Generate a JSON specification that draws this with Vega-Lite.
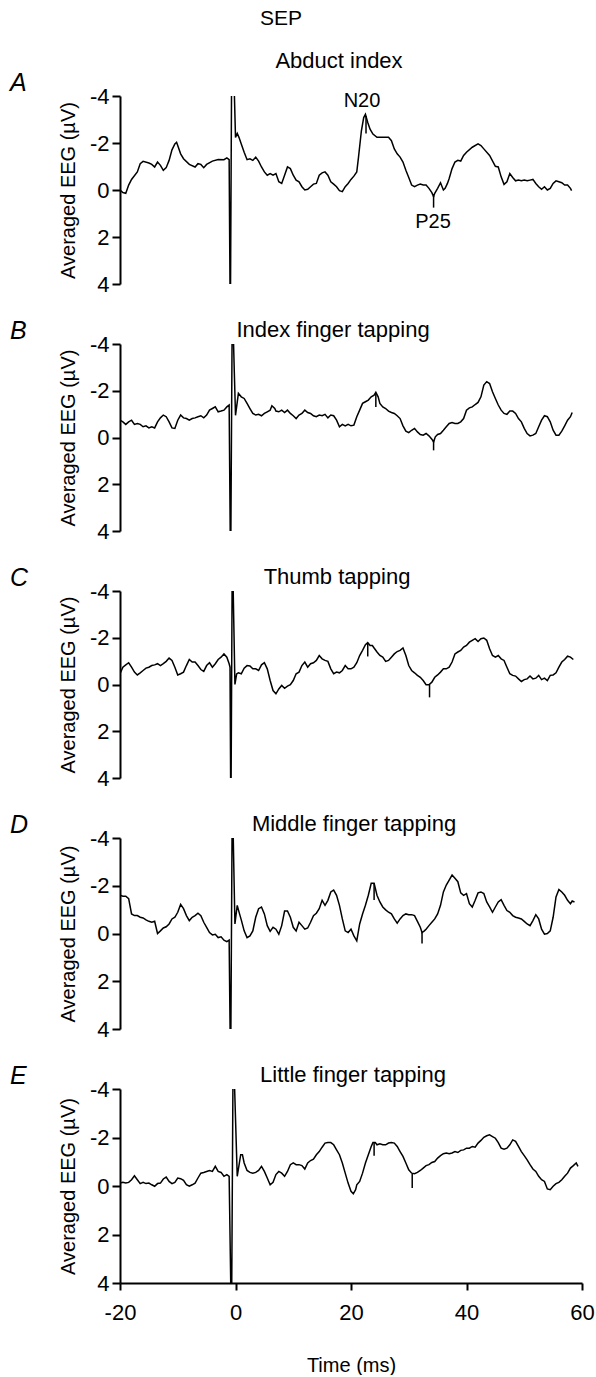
{
  "$schema": "https://vega.github.io/schema/vega-lite/v6.json",
  "autosize": {"type": "pad"},
  "padding": {"left": 10, "top": 8, "right": 0, "bottom": 0},
  "background": "white",
  "title": {"text": "SEP", "fontSize": 21, "fontWeight": "normal", "anchor": "middle", "frame": "group", "dx": -70, "offset": 4, "baseline": "alphabetic"},
  "bounds": "flush",
  "spacing": 60,
  "config": {
    "font": "Liberation Sans",
    "view": {"stroke": null},
    "axis": {"domainColor": "black", "domainWidth": 2, "tickColor": "black", "tickWidth": 2, "tickSize": 8, "labelColor": "black", "labelFont": "Liberation Sans", "labelFontSize": 22, "titleFont": "Liberation Sans", "titleFontSize": 20, "titleFontWeight": "normal", "titleColor": "black", "grid": false, "labelPadding": 3, "labelExpr": "replace(datum.label, '\u2212', '-')"},
    "axisY": {"titlePadding": 11},
    "title": {"font": "Liberation Sans", "fontWeight": "normal", "color": "black", "fontSize": 22}
  },
  "datasets": {
    "A": [
      {"t":-20,"v":0},{"t":-19.5,"v":0.11},{"t":-19,"v":0.14},{"t":-18.5,"v":-0.21},{"t":-18,"v":-0.45},{"t":-17,"v":-0.77},{"t":-16.5,"v":-1.12},{"t":-16,"v":-1.22},{"t":-15,"v":-1.15},{"t":-14.5,"v":-1.09},{"t":-14,"v":-0.98},{"t":-13.5,"v":-1.19},{"t":-13,"v":-1.05},{"t":-12.5,"v":-0.84},{"t":-12,"v":-0.95},{"t":-11.5,"v":-1.26},{"t":-11,"v":-1.71},{"t":-10.5,"v":-1.96},{"t":-10.2,"v":-2.03},{"t":-9.5,"v":-1.54},{"t":-9,"v":-1.33},{"t":-8,"v":-1.09},{"t":-7,"v":-0.98},{"t":-6.5,"v":-1.12},{"t":-6,"v":-1.09},{"t":-5.5,"v":-0.95},{"t":-5,"v":-1.09},{"t":-4,"v":-1.23},{"t":-3,"v":-1.3},{"t":-2,"v":-1.29},{"t":-1.5,"v":-1.37},{"t":-1.1,"v":-1.29},
      {"t":-0.9,"v":6},{"t":-0.65,"v":-6},{"t":-0.4,"v":-6},{"t":0,"v":-2.24},
      {"t":0.3,"v":-2.41},{"t":0.6,"v":-2.24},{"t":1,"v":-1.96},{"t":1.5,"v":-1.61},{"t":2,"v":-1.29},{"t":2.5,"v":-1.33},{"t":3,"v":-1.26},{"t":3.5,"v":-1.4},{"t":4,"v":-1.23},{"t":4.5,"v":-0.98},{"t":5,"v":-0.77},{"t":5.5,"v":-0.63},{"t":6,"v":-0.7},{"t":6.5,"v":-0.63},{"t":7,"v":-0.7},{"t":7.5,"v":-0.35},{"t":8,"v":-0.28},{"t":8.5,"v":-0.63},{"t":9,"v":-0.98},{"t":9.5,"v":-0.91},{"t":10,"v":-0.63},{"t":10.5,"v":-0.42},{"t":11,"v":-0.35},{"t":11.5,"v":-0.14},{"t":12,"v":0},{"t":12.5,"v":-0.03},{"t":13,"v":-0.14},{"t":13.5,"v":-0.25},{"t":14,"v":-0.28},{"t":14.5,"v":-0.63},{"t":15,"v":-0.73},{"t":15.5,"v":-0.77},{"t":16,"v":-0.63},{"t":16.5,"v":-0.35},{"t":17,"v":-0.25},{"t":17.5,"v":-0.14},{"t":18,"v":0.03},{"t":18.5,"v":0.07},{"t":19,"v":-0.14},{"t":19.5,"v":-0.28},{"t":20,"v":-0.45},{"t":20.5,"v":-0.59},{"t":21,"v":-0.77},{"t":21.3,"v":-1.4},{"t":21.8,"v":-2.52},{"t":22.2,"v":-3.08},{"t":22.5,"v":-3.22},{"t":22.9,"v":-2.87},{"t":23.3,"v":-2.59},{"t":23.8,"v":-2.38},{"t":24.5,"v":-2.24},{"t":25.5,"v":-2.24},{"t":26.5,"v":-2.24},{"t":27,"v":-2.1},{"t":27.5,"v":-1.75},{"t":28,"v":-1.54},{"t":28.5,"v":-1.4},{"t":29,"v":-1.19},{"t":29.5,"v":-0.84},{"t":30,"v":-0.53},{"t":30.5,"v":-0.21},{"t":31,"v":-0.14},{"t":31.5,"v":-0.21},{"t":32,"v":-0.25},{"t":32.5,"v":-0.21},{"t":33,"v":-0.21},{"t":33.5,"v":-0.07},{"t":34,"v":0.11},{"t":34.3,"v":0.28},{"t":34.5,"v":0.14},{"t":35,"v":-0.07},{"t":35.5,"v":-0.31},{"t":36,"v":0},{"t":36.3,"v":-0.07},{"t":36.7,"v":-0.28},{"t":37,"v":-0.49},{"t":37.5,"v":-0.91},{"t":38,"v":-1.19},{"t":38.5,"v":-1.26},{"t":39,"v":-1.23},{"t":39.5,"v":-1.47},{"t":40,"v":-1.61},{"t":41,"v":-1.82},{"t":42,"v":-1.96},{"t":42.5,"v":-1.89},{"t":43,"v":-1.75},{"t":44,"v":-1.47},{"t":45,"v":-1.01},{"t":45.5,"v":-0.98},{"t":46,"v":-0.56},{"t":46.5,"v":-0.24},{"t":47,"v":-0.35},{"t":47.5,"v":-0.7},{"t":48,"v":-0.53},{"t":48.5,"v":-0.39},{"t":49,"v":-0.42},{"t":49.5,"v":-0.39},{"t":50,"v":-0.42},{"t":50.5,"v":-0.39},{"t":51,"v":-0.42},{"t":51.5,"v":-0.45},{"t":52,"v":-0.28},{"t":52.5,"v":-0.14},{"t":53,"v":-0.03},{"t":53.5,"v":-0.14},{"t":54,"v":0},{"t":54.5,"v":-0.07},{"t":55,"v":-0.28},{"t":55.5,"v":-0.39},{"t":56,"v":-0.35},{"t":56.5,"v":-0.31},{"t":57,"v":-0.21},{"t":57.5,"v":-0.21},{"t":58,"v":-0.07},{"t":58.2,"v":0.03}
    ],
    "B": [
      {"t":-20,"v":-0.74},{"t":-19.5,"v":-0.67},{"t":-19,"v":-0.56},{"t":-18.5,"v":-0.67},{"t":-18,"v":-0.74},{"t":-17.5,"v":-0.56},{"t":-17,"v":-0.6},{"t":-16.5,"v":-0.56},{"t":-16,"v":-0.46},{"t":-15.5,"v":-0.5},{"t":-15,"v":-0.41},{"t":-14.5,"v":-0.46},{"t":-14,"v":-0.41},{"t":-13.5,"v":-0.67},{"t":-13,"v":-0.84},{"t":-12.5,"v":-0.96},{"t":-12,"v":-0.89},{"t":-11.5,"v":-0.67},{"t":-11,"v":-0.41},{"t":-10.5,"v":-0.39},{"t":-10,"v":-0.74},{"t":-9.5,"v":-0.96},{"t":-9,"v":-0.84},{"t":-8.5,"v":-0.81},{"t":-8,"v":-0.74},{"t":-7.5,"v":-0.81},{"t":-7,"v":-0.84},{"t":-6.5,"v":-0.89},{"t":-6,"v":-0.93},{"t":-5.5,"v":-0.84},{"t":-5,"v":-0.96},{"t":-4.5,"v":-1.17},{"t":-4,"v":-1.24},{"t":-3.5,"v":-1.31},{"t":-3,"v":-1.1},{"t":-2.5,"v":-1.13},{"t":-2,"v":-1.17},{"t":-1.5,"v":-1.31},{"t":-1.1,"v":-1.39},
      {"t":-0.85,"v":6},{"t":-0.55,"v":-6},{"t":-0.2,"v":-2.75},{"t":0,"v":-0.95},{"t":0.5,"v":-1.89},
      {"t":1,"v":-1.74},{"t":1.5,"v":-1.67},{"t":2,"v":-1.46},{"t":2.5,"v":-1.24},{"t":3,"v":-1.03},{"t":3.5,"v":-0.96},{"t":4,"v":-0.99},{"t":4.5,"v":-0.93},{"t":5,"v":-1.03},{"t":5.5,"v":-1.1},{"t":6,"v":-1.17},{"t":6.3,"v":-1.36},{"t":6.8,"v":-1.24},{"t":7,"v":-1.13},{"t":7.5,"v":-1.1},{"t":8,"v":-1.17},{"t":8.5,"v":-1.07},{"t":9,"v":-1.17},{"t":9.5,"v":-1.03},{"t":10,"v":-0.93},{"t":10.5,"v":-0.81},{"t":11,"v":-0.96},{"t":11.5,"v":-1.03},{"t":12,"v":-1.17},{"t":12.5,"v":-1.07},{"t":13,"v":-1.03},{"t":13.5,"v":-0.93},{"t":14,"v":-0.89},{"t":14.5,"v":-0.96},{"t":15,"v":-0.93},{"t":15.5,"v":-0.99},{"t":16,"v":-0.84},{"t":16.5,"v":-0.96},{"t":17,"v":-0.93},{"t":17.5,"v":-0.74},{"t":18,"v":-0.46},{"t":18.5,"v":-0.56},{"t":19,"v":-0.5},{"t":19.5,"v":-0.56},{"t":20,"v":-0.5},{"t":20.5,"v":-0.53},{"t":21,"v":-0.89},{"t":21.5,"v":-1.17},{"t":22,"v":-1.46},{"t":22.5,"v":-1.53},{"t":23,"v":-1.6},{"t":23.5,"v":-1.74},{"t":24,"v":-1.81},{"t":24.3,"v":-1.93},{"t":24.7,"v":-1.74},{"t":25,"v":-1.46},{"t":25.5,"v":-1.31},{"t":26,"v":-1.24},{"t":26.5,"v":-1.13},{"t":27,"v":-1.07},{"t":27.5,"v":-1.03},{"t":28,"v":-0.93},{"t":28.5,"v":-0.81},{"t":29,"v":-0.5},{"t":29.5,"v":-0.27},{"t":30,"v":-0.21},{"t":30.5,"v":-0.31},{"t":31,"v":-0.39},{"t":31.5,"v":-0.24},{"t":32,"v":-0.13},{"t":32.5,"v":-0.1},{"t":33,"v":-0.17},{"t":33.5,"v":-0.07},{"t":34,"v":0.07},{"t":34.3,"v":0.19},{"t":34.6,"v":-0.03},{"t":35,"v":-0.13},{"t":35.5,"v":-0.17},{"t":36,"v":-0.31},{"t":36.5,"v":-0.46},{"t":37,"v":-0.6},{"t":37.5,"v":-0.64},{"t":38,"v":-0.6},{"t":38.5,"v":-0.6},{"t":39,"v":-0.67},{"t":39.5,"v":-0.81},{"t":40,"v":-1.17},{"t":40.5,"v":-1.27},{"t":41,"v":-1.31},{"t":41.5,"v":-1.41},{"t":42,"v":-1.5},{"t":42.5,"v":-1.74},{"t":43,"v":-2.24},{"t":43.5,"v":-2.39},{"t":44,"v":-2.31},{"t":44.5,"v":-1.96},{"t":45,"v":-1.67},{"t":45.5,"v":-1.39},{"t":46,"v":-1.17},{"t":46.5,"v":-1.03},{"t":47,"v":-0.99},{"t":47.5,"v":-1.13},{"t":48,"v":-1.13},{"t":48.5,"v":-1.03},{"t":49,"v":-0.81},{"t":49.5,"v":-0.67},{"t":50,"v":-0.39},{"t":50.5,"v":-0.17},{"t":51,"v":-0.07},{"t":51.5,"v":-0.1},{"t":52,"v":-0.17},{"t":52.5,"v":-0.46},{"t":53,"v":-0.74},{"t":53.5,"v":-0.93},{"t":54,"v":-0.89},{"t":54.5,"v":-0.67},{"t":55,"v":-0.31},{"t":55.5,"v":-0.1},{"t":56,"v":-0.1},{"t":56.5,"v":-0.27},{"t":57,"v":-0.5},{"t":57.5,"v":-0.74},{"t":58,"v":-0.89},{"t":58.3,"v":-1.07}
    ],
    "C": [
      {"t":-20,"v":-0.46},{"t":-19.5,"v":-0.74},{"t":-19,"v":-0.84},{"t":-18.5,"v":-0.93},{"t":-18,"v":-0.74},{"t":-17.5,"v":-0.53},{"t":-17,"v":-0.41},{"t":-16.5,"v":-0.5},{"t":-16,"v":-0.6},{"t":-15.5,"v":-0.7},{"t":-15,"v":-0.74},{"t":-14.5,"v":-0.81},{"t":-14,"v":-0.84},{"t":-13.5,"v":-0.89},{"t":-13,"v":-0.81},{"t":-12.5,"v":-0.89},{"t":-12,"v":-0.99},{"t":-11.5,"v":-1.13},{"t":-11,"v":-1.03},{"t":-10.5,"v":-0.74},{"t":-10,"v":-0.41},{"t":-9.5,"v":-0.46},{"t":-9,"v":-0.53},{"t":-8.5,"v":-0.81},{"t":-8,"v":-1.07},{"t":-7.5,"v":-0.96},{"t":-7,"v":-0.96},{"t":-6.5,"v":-0.81},{"t":-6,"v":-0.64},{"t":-5.5,"v":-0.56},{"t":-5,"v":-0.81},{"t":-4.5,"v":-0.93},{"t":-4,"v":-0.74},{"t":-3.5,"v":-0.89},{"t":-3,"v":-1.07},{"t":-2.5,"v":-1.17},{"t":-2,"v":-1.31},{"t":-1.5,"v":-1.17},{"t":-1.1,"v":-0.89},{"t":-0.95,"v":-0.74},
      {"t":-0.8,"v":6},{"t":-0.55,"v":-6},{"t":-0.3,"v":-2.7},{"t":-0.1,"v":0},{"t":0.2,"v":-0.45},
      {"t":0.5,"v":-0.5},{"t":1,"v":-0.46},{"t":1.5,"v":-0.7},{"t":2,"v":-0.81},{"t":2.5,"v":-0.79},{"t":3,"v":-0.67},{"t":3.5,"v":-0.67},{"t":4,"v":-0.6},{"t":4.5,"v":-0.84},{"t":5,"v":-0.93},{"t":5.5,"v":-0.67},{"t":6,"v":-0.17},{"t":6.5,"v":0.26},{"t":7,"v":0.4},{"t":7.5,"v":0.19},{"t":8,"v":0.04},{"t":8.5,"v":0.16},{"t":9,"v":0.07},{"t":9.5,"v":0.01},{"t":10,"v":-0.17},{"t":10.5,"v":-0.46},{"t":11,"v":-0.53},{"t":11.5,"v":-0.81},{"t":12,"v":-0.96},{"t":12.5,"v":-0.74},{"t":13,"v":-0.89},{"t":13.5,"v":-0.93},{"t":14,"v":-1.03},{"t":14.5,"v":-1.24},{"t":15,"v":-1.1},{"t":15.5,"v":-1.03},{"t":16,"v":-0.99},{"t":16.5,"v":-0.67},{"t":17,"v":-0.46},{"t":17.5,"v":-0.53},{"t":18,"v":-0.5},{"t":18.5,"v":-0.6},{"t":19,"v":-0.81},{"t":19.5,"v":-0.67},{"t":20,"v":-0.67},{"t":20.5,"v":-0.74},{"t":21,"v":-0.93},{"t":21.5,"v":-1.24},{"t":22,"v":-1.46},{"t":22.5,"v":-1.7},{"t":22.9,"v":-1.79},{"t":23.3,"v":-1.67},{"t":23.7,"v":-1.67},{"t":24,"v":-1.56},{"t":24.5,"v":-1.39},{"t":25,"v":-1.24},{"t":25.5,"v":-1.17},{"t":26,"v":-0.99},{"t":26.5,"v":-1.03},{"t":27,"v":-1.17},{"t":27.5,"v":-1.31},{"t":28,"v":-1.41},{"t":28.5,"v":-1.46},{"t":29,"v":-1.56},{"t":29.5,"v":-1.24},{"t":30,"v":-0.81},{"t":30.5,"v":-0.6},{"t":31,"v":-0.5},{"t":31.5,"v":-0.39},{"t":32,"v":-0.31},{"t":32.5,"v":-0.17},{"t":33,"v":0.01},{"t":33.5,"v":0.01},{"t":34,"v":-0.1},{"t":34.5,"v":-0.31},{"t":35,"v":-0.41},{"t":35.5,"v":-0.53},{"t":36,"v":-0.67},{"t":36.5,"v":-0.67},{"t":37,"v":-0.74},{"t":37.5,"v":-0.96},{"t":38,"v":-1.31},{"t":38.5,"v":-1.39},{"t":39,"v":-1.46},{"t":39.5,"v":-1.6},{"t":40,"v":-1.67},{"t":40.5,"v":-1.81},{"t":41,"v":-1.89},{"t":41.5,"v":-1.96},{"t":42,"v":-1.84},{"t":42.5,"v":-1.96},{"t":43,"v":-1.99},{"t":43.5,"v":-1.89},{"t":44,"v":-1.53},{"t":44.5,"v":-1.24},{"t":45,"v":-1.17},{"t":45.5,"v":-1.24},{"t":46,"v":-1.1},{"t":46.5,"v":-1.03},{"t":47,"v":-0.74},{"t":47.5,"v":-0.46},{"t":48,"v":-0.39},{"t":48.5,"v":-0.36},{"t":49,"v":-0.24},{"t":49.5,"v":-0.13},{"t":50,"v":-0.21},{"t":50.5,"v":-0.24},{"t":51,"v":-0.36},{"t":51.5,"v":-0.24},{"t":52,"v":-0.27},{"t":52.5,"v":-0.39},{"t":53,"v":-0.21},{"t":53.5,"v":-0.27},{"t":54,"v":-0.17},{"t":54.5,"v":-0.39},{"t":55,"v":-0.41},{"t":55.5,"v":-0.5},{"t":56,"v":-0.74},{"t":56.5,"v":-0.96},{"t":57,"v":-1.07},{"t":57.5,"v":-1.21},{"t":58,"v":-1.17},{"t":58.5,"v":-1.07}
    ],
    "D": [
      {"t":-20,"v":-1.6},{"t":-19.5,"v":-1.56},{"t":-19,"v":-1.56},{"t":-18.5,"v":-1.46},{"t":-18,"v":-0.82},{"t":-17.5,"v":-0.75},{"t":-17,"v":-0.75},{"t":-16.5,"v":-0.68},{"t":-16,"v":-0.65},{"t":-15.5,"v":-0.57},{"t":-15,"v":-0.51},{"t":-14.5,"v":-0.47},{"t":-14,"v":-0.51},{"t":-13.5,"v":0},{"t":-13,"v":-0.11},{"t":-12.5,"v":-0.23},{"t":-12,"v":-0.28},{"t":-11.5,"v":-0.4},{"t":-11,"v":-0.61},{"t":-10.5,"v":-0.68},{"t":-10,"v":-0.89},{"t":-9.5,"v":-1.22},{"t":-9,"v":-1.04},{"t":-8.5,"v":-0.75},{"t":-8,"v":-0.54},{"t":-7.5,"v":-0.68},{"t":-7,"v":-0.75},{"t":-6.5,"v":-0.85},{"t":-6,"v":-0.75},{"t":-5.5,"v":-0.47},{"t":-5,"v":-0.26},{"t":-4.5,"v":-0.04},{"t":-4,"v":0.06},{"t":-3.5,"v":0.03},{"t":-3,"v":0.17},{"t":-2.5,"v":0.14},{"t":-2,"v":0.28},{"t":-1.5,"v":0.34},{"t":-1.1,"v":0.28},
      {"t":-0.85,"v":6},{"t":-0.55,"v":-6},{"t":-0.1,"v":-0.4},{"t":0.3,"v":-1.18},
      {"t":0.7,"v":-0.82},{"t":1,"v":-0.57},{"t":1.5,"v":-0.11},{"t":2,"v":0.17},{"t":2.5,"v":0.1},{"t":3,"v":-0.11},{"t":3.5,"v":-0.68},{"t":4,"v":-1.04},{"t":4.5,"v":-1.11},{"t":5,"v":-0.82},{"t":5.5,"v":-0.33},{"t":6,"v":-0.09},{"t":6.5,"v":-0.26},{"t":7,"v":-0.18},{"t":7.5,"v":0.03},{"t":8,"v":-0.33},{"t":8.5,"v":-0.94},{"t":9,"v":-0.94},{"t":9.5,"v":-0.68},{"t":10,"v":-0.26},{"t":10.5,"v":-0.11},{"t":11,"v":-0.47},{"t":11.5,"v":-0.33},{"t":12,"v":-0.18},{"t":12.5,"v":-0.23},{"t":13,"v":-0.47},{"t":13.5,"v":-0.75},{"t":14,"v":-0.85},{"t":14.5,"v":-1.04},{"t":15,"v":-1.39},{"t":15.5,"v":-1.18},{"t":16,"v":-1.39},{"t":16.5,"v":-1.74},{"t":17,"v":-1.82},{"t":17.5,"v":-1.6},{"t":18,"v":-1.18},{"t":18.5,"v":-0.61},{"t":19,"v":-0.11},{"t":19.5,"v":-0.04},{"t":20,"v":-0.18},{"t":20.5,"v":0.1},{"t":21,"v":0.31},{"t":21.5,"v":-0.4},{"t":22,"v":-0.82},{"t":22.5,"v":-1.18},{"t":23,"v":-1.6},{"t":23.5,"v":-2.1},{"t":24,"v":-2.1},{"t":24.5,"v":-1.6},{"t":25,"v":-1.32},{"t":25.5,"v":-1.11},{"t":26,"v":-0.99},{"t":26.5,"v":-0.89},{"t":27,"v":-0.82},{"t":27.5,"v":-0.61},{"t":28,"v":-0.43},{"t":28.5,"v":-0.61},{"t":29,"v":-0.75},{"t":29.5,"v":-0.82},{"t":30,"v":-0.79},{"t":30.5,"v":-0.79},{"t":31,"v":-0.75},{"t":31.5,"v":-0.51},{"t":32,"v":-0.26},{"t":32.3,"v":-0.04},{"t":32.7,"v":-0.11},{"t":33,"v":-0.18},{"t":33.5,"v":-0.33},{"t":34,"v":-0.47},{"t":34.5,"v":-0.61},{"t":35,"v":-0.82},{"t":35.5,"v":-1.18},{"t":36,"v":-1.74},{"t":36.5,"v":-2.03},{"t":37,"v":-2.24},{"t":37.5,"v":-2.45},{"t":38,"v":-2.31},{"t":38.5,"v":-2.17},{"t":39,"v":-1.7},{"t":39.5,"v":-1.6},{"t":40,"v":-1.67},{"t":40.5,"v":-1.25},{"t":41,"v":-1.11},{"t":41.5,"v":-1.39},{"t":42,"v":-1.7},{"t":42.5,"v":-1.74},{"t":43,"v":-1.67},{"t":43.5,"v":-1.32},{"t":44,"v":-1.11},{"t":44.5,"v":-0.89},{"t":45,"v":-1.11},{"t":45.5,"v":-1.32},{"t":46,"v":-1.42},{"t":46.5,"v":-1.18},{"t":47,"v":-0.96},{"t":47.5,"v":-0.89},{"t":48,"v":-0.75},{"t":48.5,"v":-0.68},{"t":49,"v":-0.65},{"t":49.5,"v":-0.61},{"t":50,"v":-0.51},{"t":50.5,"v":-0.4},{"t":51,"v":-0.33},{"t":51.5,"v":-0.54},{"t":52,"v":-0.79},{"t":52.5,"v":-0.61},{"t":53,"v":-0.18},{"t":53.5,"v":0.03},{"t":54,"v":0},{"t":54.5,"v":-0.11},{"t":55,"v":-0.68},{"t":55.5,"v":-1.53},{"t":56,"v":-1.84},{"t":56.5,"v":-1.74},{"t":57,"v":-1.6},{"t":57.5,"v":-1.39},{"t":58,"v":-1.25},{"t":58.3,"v":-1.36},{"t":58.7,"v":-1.32}
    ],
    "E": [
      {"t":-20,"v":-0.12},{"t":-19.5,"v":-0.15},{"t":-19,"v":-0.12},{"t":-18.5,"v":-0.15},{"t":-18,"v":-0.26},{"t":-17.5,"v":-0.42},{"t":-17,"v":-0.26},{"t":-16.5,"v":-0.1},{"t":-16,"v":-0.15},{"t":-15.5,"v":-0.1},{"t":-15,"v":-0.12},{"t":-14.5,"v":-0.05},{"t":-14,"v":0.01},{"t":-13.5,"v":-0.1},{"t":-13,"v":-0.12},{"t":-12.5,"v":-0.29},{"t":-12,"v":-0.37},{"t":-11.5,"v":-0.19},{"t":-11,"v":-0.1},{"t":-10.5,"v":-0.15},{"t":-10,"v":-0.33},{"t":-9.5,"v":-0.3},{"t":-9,"v":-0.23},{"t":-8.5,"v":-0.05},{"t":-8,"v":0.01},{"t":-7.5,"v":-0.05},{"t":-7,"v":-0.12},{"t":-6.5,"v":-0.33},{"t":-6,"v":-0.53},{"t":-5.5,"v":-0.56},{"t":-5,"v":-0.6},{"t":-4.5,"v":-0.64},{"t":-4,"v":-0.6},{"t":-3.5,"v":-0.81},{"t":-3,"v":-0.6},{"t":-2.5,"v":-0.56},{"t":-2,"v":-0.4},{"t":-1.5,"v":-0.47},{"t":-1.1,"v":-0.4},
      {"t":-0.7,"v":6},{"t":-0.4,"v":-6},{"t":0.3,"v":-0.4},{"t":0.9,"v":-1.29},
      {"t":1.2,"v":-1.29},{"t":1.5,"v":-0.95},{"t":2,"v":-0.64},{"t":2.5,"v":-0.56},{"t":3,"v":-0.53},{"t":3.5,"v":-0.56},{"t":4,"v":-0.64},{"t":4.5,"v":-0.81},{"t":5,"v":-0.6},{"t":5.5,"v":-0.33},{"t":6,"v":-0.05},{"t":6.5,"v":-0.15},{"t":7,"v":-0.47},{"t":7.5,"v":-0.6},{"t":8,"v":-0.53},{"t":8.5,"v":-0.4},{"t":9,"v":-0.6},{"t":9.5,"v":-0.88},{"t":10,"v":-0.95},{"t":10.5,"v":-0.88},{"t":11,"v":-0.88},{"t":11.5,"v":-0.84},{"t":12,"v":-0.7},{"t":12.5,"v":-0.95},{"t":13,"v":-1.05},{"t":13.5,"v":-1.11},{"t":14,"v":-1.29},{"t":14.5,"v":-1.42},{"t":15,"v":-1.6},{"t":15.5,"v":-1.77},{"t":16,"v":-1.79},{"t":16.5,"v":-1.79},{"t":17,"v":-1.7},{"t":17.5,"v":-1.49},{"t":18,"v":-1.29},{"t":18.5,"v":-0.95},{"t":19,"v":-0.53},{"t":19.5,"v":-0.12},{"t":20,"v":0.22},{"t":20.4,"v":0.32},{"t":20.8,"v":0.15},{"t":21,"v":-0.05},{"t":21.5,"v":-0.19},{"t":22,"v":-0.53},{"t":22.5,"v":-0.95},{"t":23,"v":-1.29},{"t":23.5,"v":-1.63},{"t":23.8,"v":-1.79},{"t":24.2,"v":-1.79},{"t":24.5,"v":-1.7},{"t":25,"v":-1.74},{"t":25.5,"v":-1.7},{"t":26,"v":-1.7},{"t":26.5,"v":-1.77},{"t":27,"v":-1.79},{"t":27.5,"v":-1.77},{"t":28,"v":-1.63},{"t":28.5,"v":-1.42},{"t":29,"v":-1.22},{"t":29.5,"v":-0.95},{"t":30,"v":-0.67},{"t":30.5,"v":-0.53},{"t":31,"v":-0.51},{"t":31.5,"v":-0.56},{"t":32,"v":-0.64},{"t":32.5,"v":-0.74},{"t":33,"v":-0.84},{"t":33.5,"v":-0.88},{"t":34,"v":-0.97},{"t":34.5,"v":-1.01},{"t":35,"v":-1.15},{"t":35.5,"v":-1.25},{"t":36,"v":-1.33},{"t":36.5,"v":-1.36},{"t":37,"v":-1.33},{"t":37.5,"v":-1.36},{"t":38,"v":-1.42},{"t":38.5,"v":-1.38},{"t":39,"v":-1.47},{"t":39.5,"v":-1.49},{"t":40,"v":-1.56},{"t":40.5,"v":-1.56},{"t":41,"v":-1.63},{"t":41.5,"v":-1.6},{"t":42,"v":-1.77},{"t":42.5,"v":-1.88},{"t":43,"v":-2.01},{"t":43.5,"v":-2.07},{"t":44,"v":-2.11},{"t":44.5,"v":-2.04},{"t":45,"v":-1.97},{"t":45.5,"v":-1.79},{"t":46,"v":-1.56},{"t":46.5,"v":-1.52},{"t":47,"v":-1.56},{"t":47.5,"v":-1.7},{"t":48,"v":-1.9},{"t":48.5,"v":-1.84},{"t":49,"v":-1.63},{"t":49.5,"v":-1.42},{"t":50,"v":-1.25},{"t":50.5,"v":-1.08},{"t":51,"v":-0.88},{"t":51.5,"v":-0.7},{"t":52,"v":-0.6},{"t":52.5,"v":-0.4},{"t":53,"v":-0.26},{"t":53.5,"v":-0.19},{"t":54,"v":0.12},{"t":54.5,"v":0.15},{"t":55,"v":0.01},{"t":55.5,"v":-0.1},{"t":56,"v":-0.15},{"t":56.5,"v":-0.26},{"t":57,"v":-0.4},{"t":57.5,"v":-0.53},{"t":58,"v":-0.74},{"t":58.5,"v":-0.84},{"t":59,"v":-0.95},{"t":59.3,"v":-0.81}
    ],
    "mA": [{"t":22.6,"v":-3.15,"v2":-2.4},{"t":34.3,"v":0.25,"v2":0.75}],
    "mB": [{"t":24.3,"v":-1.9,"v2":-1.3},{"t":34.3,"v":0.1,"v2":0.55}],
    "mC": [{"t":22.9,"v":-1.75,"v2":-1.2},{"t":33.6,"v":0,"v2":0.55}],
    "mD": [{"t":24.0,"v":-2.1,"v2":-1.4},{"t":32.3,"v":-0.05,"v2":0.42}],
    "mE": [{"t":24.0,"v":-1.79,"v2":-1.25},{"t":30.6,"v":-0.5,"v2":0.08}],
    "labA": [{"t":21.9,"v":-3.53,"label":"N20"},{"t":34.2,"v":1.62,"label":"P25"}]
  },
  "vconcat": [
    {
      "width": 462, "height": 188,
      "title": {"text": "Abduct index", "anchor": "middle", "frame": "group", "dx": -12, "offset": -19, "baseline": "alphabetic"},
      "encoding": {
        "x": {"field": "t", "type": "quantitative", "scale": {"domain": [-20, 60], "nice": false, "zero": false}, "axis": null},
        "y": {"field": "v", "type": "quantitative", "scale": {"domain": [-4, 4], "reverse": true, "nice": false, "zero": false}, "axis": {"values": [-4, -2, 0, 2, 4], "title": "Averaged EEG (µV)"}}
      },
      "layer": [
        {"data": {"name": "A"}, "mark": {"type": "line", "color": "black", "strokeWidth": 1.5, "clip": true}, "encoding": {}},
        {"data": {"name": "mA"}, "mark": {"type": "rule", "color": "black", "strokeWidth": 1.5}, "encoding": {"y2": {"field": "v2"}}},
        {"data": {"name": "labA"}, "mark": {"type": "text", "fontSize": 20, "baseline": "alphabetic", "align": "center", "color": "black"}, "encoding": {"text": {"field": "label"}}},
        {"data": {"values": [{"t": -20, "v": -4, "label": "A"}]}, "mark": {"type": "text", "fontStyle": "italic", "fontSize": 25, "align": "left", "baseline": "alphabetic", "dx": -110, "dy": -5, "color": "black"}, "encoding": {"text": {"field": "label"}}}
      ]
    },
    {
      "width": 462, "height": 187,
      "title": {"text": "Index finger tapping", "anchor": "middle", "frame": "group", "dx": -18, "offset": -40, "baseline": "alphabetic"},
      "encoding": {
        "x": {"field": "t", "type": "quantitative", "scale": {"domain": [-20, 60], "nice": false, "zero": false}, "axis": null},
        "y": {"field": "v", "type": "quantitative", "scale": {"domain": [-4, 4], "reverse": true, "nice": false, "zero": false}, "axis": {"values": [-4, -2, 0, 2, 4], "title": "Averaged EEG (µV)"}}
      },
      "layer": [
        {"data": {"name": "B"}, "mark": {"type": "line", "color": "black", "strokeWidth": 1.5, "clip": true}, "encoding": {}},
        {"data": {"name": "mB"}, "mark": {"type": "rule", "color": "black", "strokeWidth": 1.5}, "encoding": {"y2": {"field": "v2"}}},
        {"data": {"values": [{"t": -20, "v": -4, "label": "B"}]}, "mark": {"type": "text", "fontStyle": "italic", "fontSize": 25, "align": "left", "baseline": "alphabetic", "dx": -110, "dy": -5, "color": "black"}, "encoding": {"text": {"field": "label"}}}
      ]
    },
    {
      "width": 462, "height": 187,
      "title": {"text": "Thumb tapping", "anchor": "middle", "frame": "group", "dx": -14, "offset": -40, "baseline": "alphabetic"},
      "encoding": {
        "x": {"field": "t", "type": "quantitative", "scale": {"domain": [-20, 60], "nice": false, "zero": false}, "axis": null},
        "y": {"field": "v", "type": "quantitative", "scale": {"domain": [-4, 4], "reverse": true, "nice": false, "zero": false}, "axis": {"values": [-4, -2, 0, 2, 4], "title": "Averaged EEG (µV)"}}
      },
      "layer": [
        {"data": {"name": "C"}, "mark": {"type": "line", "color": "black", "strokeWidth": 1.5, "clip": true}, "encoding": {}},
        {"data": {"name": "mC"}, "mark": {"type": "rule", "color": "black", "strokeWidth": 1.5}, "encoding": {"y2": {"field": "v2"}}},
        {"data": {"values": [{"t": -20, "v": -4, "label": "C"}]}, "mark": {"type": "text", "fontStyle": "italic", "fontSize": 25, "align": "left", "baseline": "alphabetic", "dx": -110, "dy": -5, "color": "black"}, "encoding": {"text": {"field": "label"}}}
      ]
    },
    {
      "width": 462, "height": 191,
      "title": {"text": "Middle finger tapping", "anchor": "middle", "frame": "group", "dx": 3, "offset": -40, "baseline": "alphabetic"},
      "encoding": {
        "x": {"field": "t", "type": "quantitative", "scale": {"domain": [-20, 60], "nice": false, "zero": false}, "axis": null},
        "y": {"field": "v", "type": "quantitative", "scale": {"domain": [-4, 4], "reverse": true, "nice": false, "zero": false}, "axis": {"values": [-4, -2, 0, 2, 4], "title": "Averaged EEG (µV)"}}
      },
      "layer": [
        {"data": {"name": "D"}, "mark": {"type": "line", "color": "black", "strokeWidth": 1.5, "clip": true}, "encoding": {}},
        {"data": {"name": "mD"}, "mark": {"type": "rule", "color": "black", "strokeWidth": 1.5}, "encoding": {"y2": {"field": "v2"}}},
        {"data": {"values": [{"t": -20, "v": -4, "label": "D"}]}, "mark": {"type": "text", "fontStyle": "italic", "fontSize": 25, "align": "left", "baseline": "alphabetic", "dx": -110, "dy": -5, "color": "black"}, "encoding": {"text": {"field": "label"}}}
      ]
    },
    {
      "width": 462, "height": 194,
      "title": {"text": "Little finger tapping", "anchor": "middle", "frame": "group", "dx": 2, "offset": -40, "baseline": "alphabetic"},
      "encoding": {
        "x": {"field": "t", "type": "quantitative", "scale": {"domain": [-20, 60], "nice": false, "zero": false}, "axis": {"values": [-20, 0, 20, 40, 60], "title": "Time (ms)", "labelFlush": false, "tickSize": 7, "labelPadding": 12, "titlePadding": 32}},
        "y": {"field": "v", "type": "quantitative", "scale": {"domain": [-4, 4], "reverse": true, "nice": false, "zero": false}, "axis": {"values": [-4, -2, 0, 2, 4], "title": "Averaged EEG (µV)"}}
      },
      "layer": [
        {"data": {"name": "E"}, "mark": {"type": "line", "color": "black", "strokeWidth": 1.5, "clip": true}, "encoding": {}},
        {"data": {"name": "mE"}, "mark": {"type": "rule", "color": "black", "strokeWidth": 1.5}, "encoding": {"y2": {"field": "v2"}}},
        {"data": {"values": [{"t": -20, "v": -4, "label": "E"}]}, "mark": {"type": "text", "fontStyle": "italic", "fontSize": 25, "align": "left", "baseline": "alphabetic", "dx": -110, "dy": -5, "color": "black"}, "encoding": {"text": {"field": "label"}}}
      ]
    }
  ]
}
